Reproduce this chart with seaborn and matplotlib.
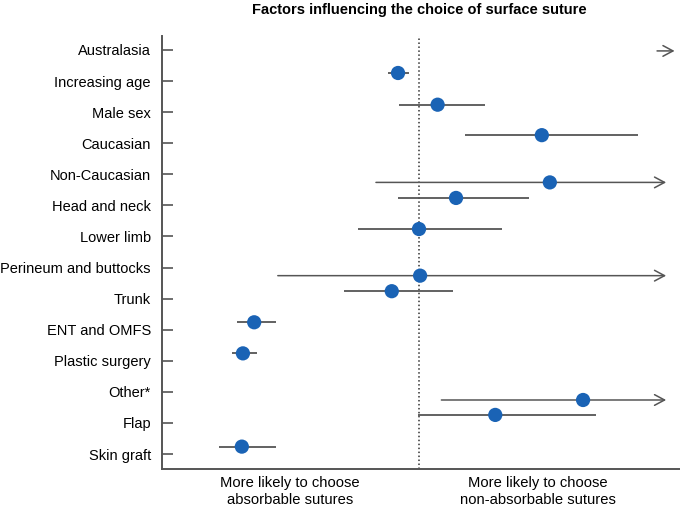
import matplotlib
matplotlib.use("Agg")
import matplotlib.pyplot as plt
import numpy as np
import pandas as pd
import seaborn as sns

# Forest plot values (odds ratios, log x axis)
factors = ["Australasia", "Increasing age", "Male sex", "Caucasian", "Non-Caucasian",
           "Head and neck", "Lower limb", "Perineum and buttocks", "Trunk",
           "ENT and OMFS", "Plastic surgery", "Other*", "Flap", "Skin graft"]
odds_ratio = [np.nan, 0.83, 1.18, 2.98, 3.20, 1.39, 1.00, 1.01, 0.785,
              0.231, 0.209, 4.30, 1.97, 0.207]
ci_low = [8.3, 0.76, 0.837, 1.51, 0.682, 0.83, 0.58, 0.285, 0.513,
          0.198, 0.19, 1.22, 0.99, 0.169]
ci_high = [9.7, 0.915, 1.80, 7.01, 9.0, 2.66, 2.09, 9.0, 1.35,
           0.28, 0.237, 9.0, 4.81, 0.28]
open_upper = [True, False, False, False, True, False, False, True, False,
              False, False, True, False, False]
row_shift = [0.03, -0.26, -0.24, -0.26, 0.26, -0.24, -0.24, 0.26, -0.24,
             -0.24, -0.24, 0.26, -0.26, -0.24]

df = pd.DataFrame({"factor": factors, "or": odds_ratio, "lo": ci_low, "hi": ci_high,
                   "open": open_upper})
df["y"] = np.arange(len(df)) + np.array(row_shift)

sns.set_theme(style="ticks")
plt.rcParams["font.family"] = ["Liberation Sans", "DejaVu Sans"]

fig = plt.figure(figsize=(6.8, 5.11), dpi=100)
ax = fig.add_axes([162 / 680, 1 - 469 / 511, 1 - 162 / 680, (469 - 36) / 511])

line_col = "#555555"
for _, r in df.iterrows():
    if r["open"]:
        ax.annotate("", xy=(r["hi"], r["y"]), xytext=(r["lo"], r["y"]),
                    arrowprops=dict(arrowstyle="->,head_length=0.6,head_width=0.32",
                                    color=line_col, lw=1.1, shrinkA=0, shrinkB=0))
    else:
        ax.hlines(r["y"], r["lo"], r["hi"], color=line_col, lw=1.3)

sns.scatterplot(data=df.dropna(subset=["or"]), x="or", y="y", ax=ax, s=105,
                color="#1a63b5", edgecolor="none", zorder=3)

ax.axvline(1.0, color="#333333", ls=(0, (1, 1.6)), lw=1.1, zorder=1)

ax.set_xscale("log")
ax.set_xlim(10 ** (-257 / 259), 10 ** (261 / 259))
ax.set_ylim(len(df) - 1 + 0.48, -0.45)
ax.set_yticks(np.arange(len(df)))
ax.set_yticklabels(factors, fontsize=10.5, color="#000000")
ax.set_xticks([])
ax.minorticks_off()
ax.tick_params(axis="x", which="both", bottom=False, labelbottom=False)
ax.tick_params(axis="y", direction="in", length=8, width=1.2, color="#555555", pad=8)
ax.set_xlabel("")
ax.set_ylabel("")
for side in ["top", "right"]:
    ax.spines[side].set_visible(False)
for side in ["left", "bottom"]:
    ax.spines[side].set_color("#555555")
    ax.spines[side].set_linewidth(1.4)

fig.text(419.5 / 680, 1 - 10 / 511, "Factors influencing the choice of surface suture",
         ha="center", va="center", fontsize=10.5, fontweight="bold", color="#000000")
fig.text(290 / 680, 1 - 476 / 511, "More likely to choose\nabsorbable sutures",
         ha="center", va="top", fontsize=10.6, color="#000000", linespacing=1.25)
fig.text(538 / 680, 1 - 476 / 511, "More likely to choose\nnon-absorbable sutures",
         ha="center", va="top", fontsize=10.6, color="#000000", linespacing=1.25)

fig.savefig("out.png", dpi=100)
